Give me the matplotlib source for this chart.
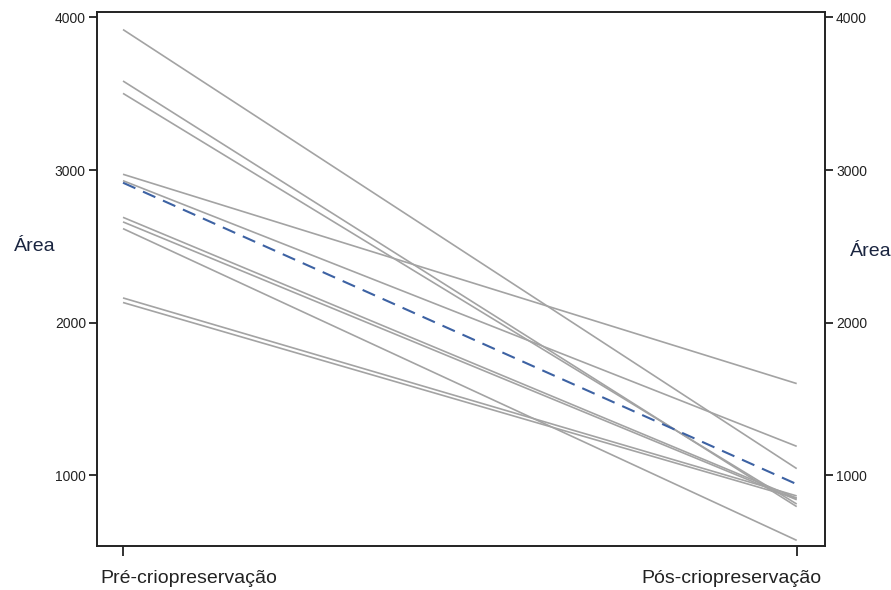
import matplotlib
matplotlib.use("Agg")
import matplotlib.pyplot as plt
import matplotlib.transforms as mtransforms
import numpy as np

plt.rcParams['font.family'] = ['Liberation Sans', 'DejaVu Sans']

# Data: paired measurements (pre, post) per sample
categories = ["Pré-criopreservação", "Pós-criopreservação"]
pre_values = [3920, 3583, 3502, 2972, 2930, 2690, 2660, 2616, 2162, 2132]
post_values = [1044, 795, 812, 1601, 1190, 850, 840, 574, 865, 850]
y_ticks = [1000, 2000, 3000, 4000]

mean_pre = np.mean(pre_values)
mean_post = np.mean(post_values)

fig = plt.figure(figsize=(8.91, 5.90), dpi=100)
ax = fig.add_axes([97/891, 1-546/590, (825-97)/891, (546-12)/590])

x = np.arange(len(categories))
for a, b in zip(pre_values, post_values):
    ax.plot(x, [a, b], color='#a3a3a3', lw=1.2, solid_capstyle='butt')
ax.plot(x, [mean_pre, mean_post], color='#3d62a3', lw=1.5, ls=(0, (6.5, 4)))

ax.set_xlim(-0.0386, 1.042)
ax.set_ylim(537, 4035)
ax.set_xticks(x)
ax.set_xticklabels([])
ax.set_yticks(y_ticks)
ax.set_yticklabels([str(v) for v in y_ticks])

for s in ax.spines.values():
    s.set_color('#222222')
    s.set_linewidth(1.4)

ax.tick_params(axis='y', which='both', left=True, right=True, labelleft=True,
               labelright=True, direction='out', length=6, width=1.3,
               color='#222222', labelsize=10, labelcolor='#222222', pad=2)
ax.tick_params(axis='x', direction='out', length=7, width=1.3, color='#222222')

# category labels (offset from ticks like the original)
blend = mtransforms.blended_transform_factory(ax.transData, ax.transAxes)
lab_y = -0.045
ax.text(-0.0386 + 3/673, lab_y, categories[0], transform=blend,
        ha='left', va='top', fontsize=14, color='#222222')
ax.text(1.042 - 3/673, lab_y, categories[1], transform=blend,
        ha='right', va='top', fontsize=14, color='#222222')

# axis titles
fig.text(14/891, 1-247/590, "Área", ha='left', va='center', fontsize=14, color='#1a2540')
fig.text(850/891, 1-252/590, "Área", ha='left', va='center', fontsize=14, color='#1a2540')

fig.savefig("out.png", dpi=100)
